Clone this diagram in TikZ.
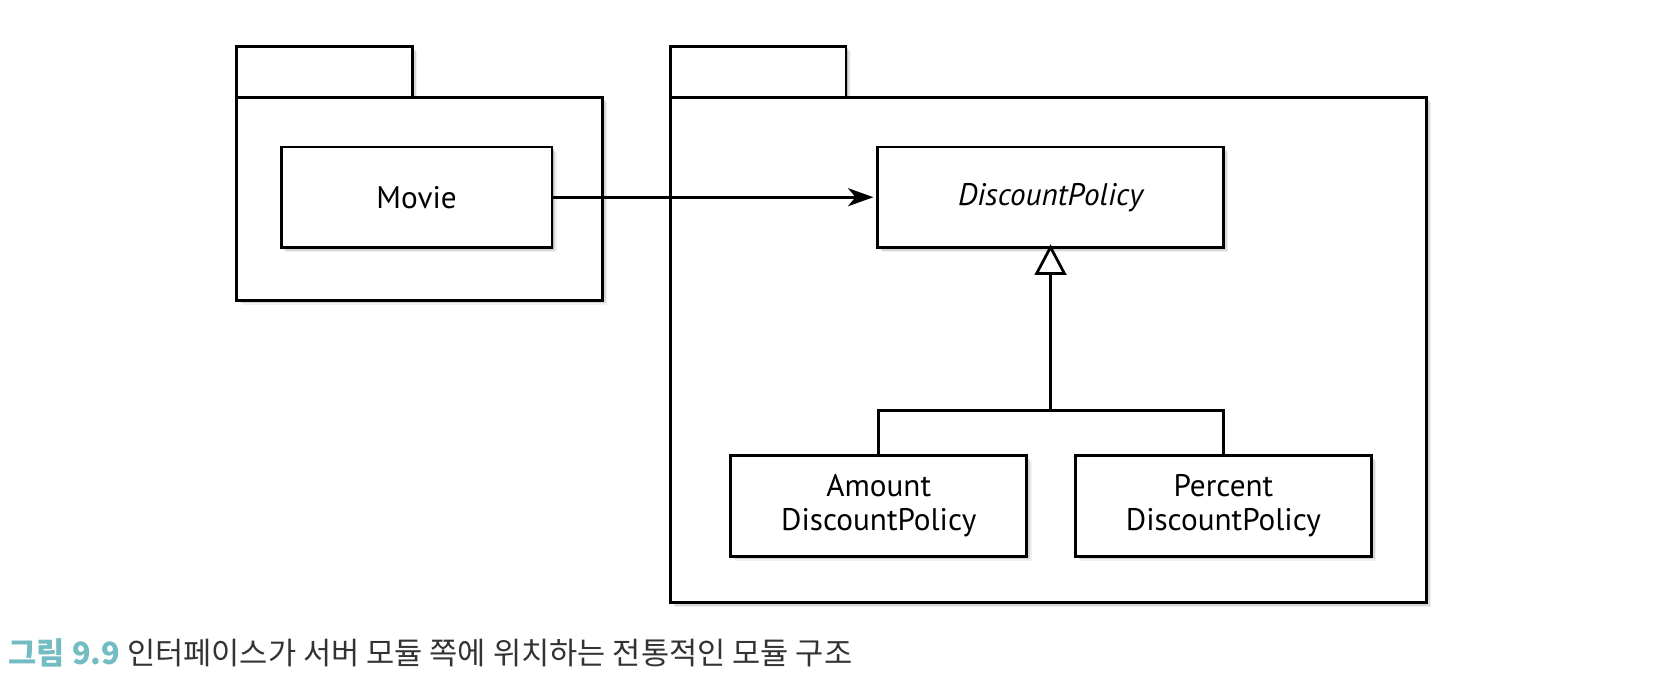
\documentclass[tikz,border=0pt]{standalone}
\usepackage{fontspec}
\setmainfont{PT Sans}
\newfontfamily\krfont{Noto Sans CJK KR}
\usetikzlibrary{arrows.meta,shadows}
\definecolor{capteal}{HTML}{72BCC2}
\definecolor{capgray}{HTML}{333333}
\tikzset{
  softshadow/.style={
    drop shadow={shadow xshift=1.5pt, shadow yshift=-1.5pt, opacity=0.15, fill=black},
    drop shadow={shadow xshift=3pt, shadow yshift=-3pt, opacity=0.10, fill=black},
    drop shadow={shadow xshift=4.5pt, shadow yshift=-4.5pt, opacity=0.06, fill=black}},
  pkgpart/.style={draw=black, line width=2.6pt, fill=white, inner sep=0pt, outer sep=0pt, anchor=north west, softshadow},
  classbox/.style={draw=black, line width=2.6pt, fill=white, inner sep=0pt, outer sep=0pt,
    minimum width=#1, minimum height=95pt, align=center, font=\fontsize{29.5}{32}\selectfont, softshadow},
  conn/.style={line width=2.6pt, draw=black},
}
\begin{document}
\begin{tikzpicture}[x=1pt,y=-1pt]
\useasboundingbox (0,0) rectangle (1568,658);
% left package
\node[pkgpart, minimum width=166pt, minimum height=60pt] (ltab) at (224,44) {};
\node[pkgpart, minimum width=346pt, minimum height=192pt] (lbody) at (224,92) {};
% right package
\node[pkgpart, minimum width=166pt, minimum height=60pt] (rtab) at (634,44) {};
\node[pkgpart, minimum width=715pt, minimum height=478pt] (rbody) at (634,92) {};
% classes
\node[classbox=256pt] (movie) at (394,186.5) {Movie};
\node[classbox=327pt] (dp) at (993.5,186.5) {\itshape DiscountPolicy};
\node[classbox=280pt] (amount) at (831,478.5) {Amount\\DiscountPolicy};
\node[classbox=280pt] (percent) at (1157,478.5) {Percent\\DiscountPolicy};
% connectors
\coordinate (join) at (dp.south |- 0,388);
\draw[conn, -{Stealth[length=24pt,width=17pt,inset=7pt]}] (movie.east) -- ([xshift=-4pt]dp.west);
\draw[conn, -{Triangle[open,length=29pt,width=30pt,line width=2.6pt]}] (join) -- ([yshift=3pt]dp.south);
\draw[conn] (amount.north) |- (join) -| (percent.north);
% caption
\node[anchor=base west, inner sep=0pt, font=\krfont\fontsize{29}{34}\selectfont] (cap) at (8,628)
  {\textcolor{capteal}{\bfseries 그림 9.9} \textcolor{capgray}{인터페이스가 서버 모듈 쪽에 위치하는 전통적인 모듈 구조}};
\end{tikzpicture}
\end{document}
